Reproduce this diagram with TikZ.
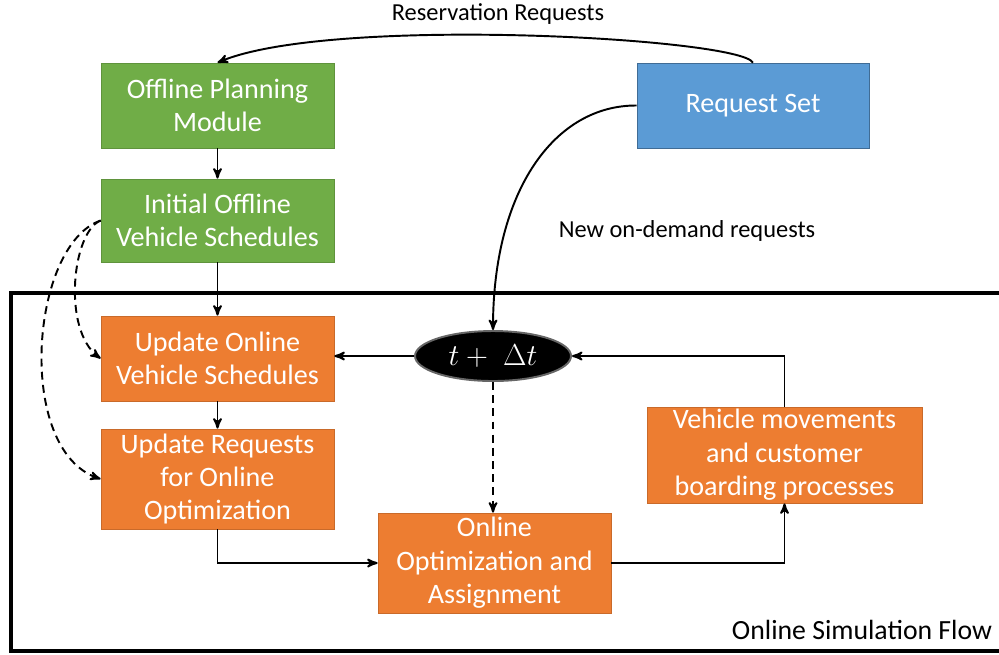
\documentclass[tikz,border=0pt]{standalone}
\usepackage{fontspec}
\setmainfont{Carlito}
\usetikzlibrary{shapes}
\usetikzlibrary{arrows}
\definecolor{boxgreen}{HTML}{70AD47}
\definecolor{boxorange}{HTML}{ED7D31}
\definecolor{boxblue}{HTML}{5B9BD5}
\tikzset{
	stepnode/.style = {
		align=center,
		inner sep=0pt,
		text centered,
		rectangle,
		text=white,
		font=\fontsize{16}{19}\selectfont,
		minimum width=233*0.02cm
	},
	node_g/.style = {
		stepnode,
		fill=boxgreen,
		draw=boxgreen!85!black,
		thin
	},
	node_o/.style = {
		stepnode,
		fill=boxorange,
		draw=boxorange!85!black,
		thin
	},
	node_bl/.style = {
		stepnode,
		fill=boxblue,
		draw=boxblue!70!black,
		thin
	},
	node_time/.style = {
		ellipse,
		fill=black,
		draw=black!60,
		text=white,
		inner sep=0pt,
		minimum width=156*0.02cm,
		minimum height=50*0.02cm,
		font=\fontsize{17}{20}\selectfont
	},
	flowlabel/.style = {
		font=\fontsize{13.9}{16}\selectfont
	},
	dashlink/.style = {
		dash pattern=on 4.5pt off 3pt
	},
}

\begin{document}
\begin{tikzpicture}[x=0.02cm,y=-0.02cm,->,>=stealth',line width=1.1pt]
\useasboundingbox (0,0) rectangle (999,654);
% online loop frame
\draw[-,line width=1.8pt] (1010,293) -- (11,293) -- (11,651) -- (1010,651);
\node [font=\fontsize{15.8}{18}\selectfont] (simlabel) at (862,630) {Online Simulation Flow};

% offline part
\node [node_g, minimum height=85*0.02cm] (offline) at (217.5,105.5) {Offline Planning\\Module};
\node [node_g, minimum height=83*0.02cm] (initial) at (217.5,220.5) {Initial Offline\\Vehicle Schedules};
\node [node_bl, minimum width=232*0.02cm, minimum height=85*0.02cm] (reqset) at (753,105.5) {Request Set};

% online part
\node [node_o, minimum height=85*0.02cm] (updonline) at (217.5,358.5) {Update Online\\Vehicle Schedules};
\node [node_o, minimum height=100*0.02cm] (updreq) at (217.5,479) {Update Requests\\for Online\\Optimization};
\node [node_time] (tdt) at (493,356) {$t+\;\Delta t$};
\node [node_o, minimum width=275*0.02cm, minimum height=96*0.02cm] (vehmov) at (784.5,455) {Vehicle movements\\and customer\\boarding processes};
\node [node_o, minimum height=100*0.02cm] (onlineopt) at (494.5,563) {Online\\Optimization and\\Assignment};

\node [flowlabel] (reslabel) at (498,14) {Reservation Requests};
\node [flowlabel] (newlabel) at (687,231) {New on-demand requests};

% connectors
\draw (reqset.north) .. controls (740,38) and (330,15) .. (offline.north);
\draw (reqset.west) .. controls (555,105) and (493,190) .. (tdt.north);
\draw (offline) -- (initial);
\draw (initial) -- (updonline);
\draw (updonline) -- (updreq);
\draw (tdt.west) -- (tdt.west -| updonline.east);
\draw (vehmov.north) |- (tdt.east);
\draw[dashlink] (tdt.south) -- (tdt.south |- onlineopt.north);
\draw (updreq.south) |- (onlineopt.west);
\draw (onlineopt.east) -| (vehmov.south);
\draw[dashlink] (initial.west) .. controls (72,232) and (62,330) .. (updonline.west);
\draw[dashlink] (initial.west) .. controls (30,245) and (15,450) .. (updreq.west);
\end{tikzpicture}
\end{document}
